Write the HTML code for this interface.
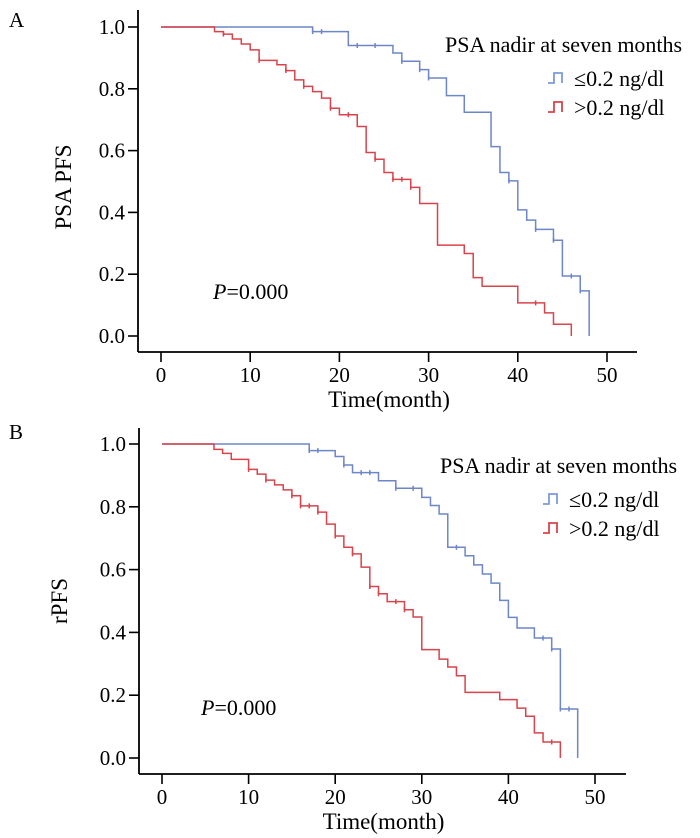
<!DOCTYPE html>
<html><head><meta charset="utf-8"><style>
html,body{margin:0;padding:0;background:#fff;}
svg{display:block;font-family:"Liberation Serif",serif;}
</style></head><body>
<svg id="fig" width="700" height="838" viewBox="0 0 700 838">
</svg>
<script>
// Panel A data: [month, survival]
const aBlueSteps = [[17,0.985],[21,0.94],[26,0.916],[27,0.889],[29,0.862],[30,0.835],[32,0.778],[34,0.724],[37,0.613],[38,0.529],[39,0.502],[40,0.408],[41,0.375],[42,0.345],[44,0.31],[45,0.194],[47,0.146],[48,0]];
const aBlueCensor = [17,18,22,24,27,29,30,39,42,44,46,47];
const aRedSteps = [[6,0.985],[7,0.977],[8,0.961],[9,0.945],[10,0.926],[11,0.892],[13,0.878],[14,0.859],[15,0.829],[16,0.808],[17,0.791],[18,0.770],[19,0.737],[20,0.716],[22,0.678],[23,0.594],[24,0.572],[25,0.529],[26,0.507],[28,0.481],[29,0.429],[31,0.294],[34,0.267],[35,0.189],[36,0.161],[40,0.107],[43,0.075],[44,0.038],[46,0]];
const aRedCensor = [7,11,14,16,19,21,24,26,27,28,42];
// Panel B data
const bBlueSteps = [[17,0.979],[20,0.960],[21,0.933],[22,0.909],[25,0.883],[27,0.859],[30,0.830],[31,0.804],[32,0.777],[33,0.671],[35,0.644],[36,0.615],[37,0.586],[38,0.557],[39,0.502],[40,0.448],[41,0.414],[43,0.382],[45,0.347],[46,0.156],[48,0]];
const bBlueCensor = [17,18,21,23,24,27,29,34,44,45,46,47];
const bRedSteps = [[6,0.983],[7,0.970],[8,0.951],[10,0.919],[11,0.904],[12,0.885],[13,0.870],[14,0.854],[15,0.835],[16,0.803],[18,0.783],[19,0.745],[20,0.707],[21,0.671],[22,0.650],[23,0.608],[24,0.546],[25,0.523],[26,0.498],[28,0.472],[29,0.449],[30,0.345],[32,0.315],[33,0.290],[34,0.262],[35,0.209],[39,0.186],[41,0.159],[42,0.133],[43,0.080],[44,0.051],[46,0]];
const bRedCensor = [10,12,15,16,17,18,20,22,24,25,27,28,45];
const xTicks = [0,10,20,30,40,50];
const yTicks = [0,0.2,0.4,0.6,0.8,1.0];
const yTickLabels = ["0.0","0.2","0.4","0.6","0.8","1.0"];

const NS="http://www.w3.org/2000/svg";
const svg=document.getElementById('fig');
function mk(tag,attrs,parent,text){const e=document.createElementNS(NS,tag);for(const k in attrs)e.setAttribute(k,attrs[k]);if(text!==undefined)e.textContent=text;(parent||svg).appendChild(e);return e;}

function panel(p){
  const g=mk('g',{});
  
  
  const sx=v=>p.x0+(p.x50-p.x0)*v/50;
  const sy=v=>p.y0+(p.y1-p.y0)*v;
  const L=mk('text',{x:9,y:p.letterY,'font-size':21},g,p.letter);
  
  
  const ya=mk('line',{x1:p.ax,y1:p.axTop,x2:p.ax,y2:p.ay,stroke:'#000','stroke-width':1.8},g);
  
  
  const xa=mk('line',{x1:p.ax,y1:p.ay,x2:p.axRight,y2:p.ay,stroke:'#000','stroke-width':1.8},g);
  
  
  yTicks.forEach((t,i)=>{
    const y=sy(t);
    mk('line',{x1:p.ax-10,y1:y,x2:p.ax,y2:y,stroke:'#000','stroke-width':1.6},g);
    const tl=mk('text',{x:p.ax-13,y:y+7,'font-size':21,'text-anchor':'end'},g,yTickLabels[i]);
    
    
  });
  xTicks.forEach(t=>{
    const x=sx(t);
    mk('line',{x1:x,y1:p.ay,x2:x,y2:p.ay+10,stroke:'#000','stroke-width':1.6},g);
    const tl=mk('text',{x:x,y:p.ay+30,'font-size':21,'text-anchor':'middle'},g,String(t));
    
    
  });
  const xt=mk('text',{x:(sx(0)+sx(50))/2+5,y:p.ay+55,'font-size':23,'text-anchor':'middle'},g,'Time(month)');
  
  
  const yt=mk('text',{x:0,y:0,'font-size':23,'text-anchor':'middle',transform:`translate(${p.ytX},${p.ytY}) rotate(-90)`},g,p.ytitle);
  
  
  function curve(steps,censor,color,nm){
    let d=`M${sx(0)},${sy(1)}`;
    steps.forEach(([t,v])=>{d+=` H${sx(t)} V${sy(v)}`;});
    const path=mk('path',{d:d,fill:'none',stroke:color,'stroke-width':1.5},g);
    
    
    censor.forEach(c=>{
      let v=1;steps.forEach(([t,s])=>{if(t<=c)v=s;});
      const y=sy(v);
      const m=mk('line',{x1:sx(c),y1:y-2.5,x2:sx(c),y2:y+2.5,stroke:color,'stroke-width':1.5},g);
      
      
    });
  }
  curve(p.blue,p.blueC,'#6d86c9','low-nadir');
  curve(p.red,p.redC,'#d9434b','high-nadir');
  const pv=mk('text',{x:p.pX,y:p.pY,'font-size':22},g);
  
  
  mk('tspan',{'font-style':'italic'},pv,'P');
  mk('tspan',{},pv,'=0.000');
  const lg=mk('g',{},g);
  
  
  mk('text',{x:p.lgX,y:p.lgY,'font-size':22},lg,'PSA nadir at seven months');
  [['#7c9bdb','≤0.2 ng/dl'],['#d9434b','>0.2 ng/dl']].forEach(([c,t],i)=>{
    const yy=p.lgY+31+i*29;
    const ix=p.lgX+103;
    const e=mk('g',{},lg);
    
    
    mk('path',{d:`M${ix},${yy} H${ix+6} V${yy-10} H${ix+14} V${yy}`,fill:'none',stroke:c,'stroke-width':1.8},e);
    mk('text',{x:ix+26,y:yy+3,'font-size':22},e,t);
  });
}

panel({name:'panel-a',letter:'A',letterY:27,x0:161,x50:607,y0:336,y1:27,ax:138,ay:352,axTop:10,axRight:637,
  ytitle:'PSA PFS',ytX:71,ytY:187,blue:aBlueSteps,blueC:aBlueCensor,red:aRedSteps,redC:aRedCensor,pX:213,pY:299,lgX:445,lgY:52});
panel({name:'panel-b',letter:'B',letterY:439,x0:162,x50:595,y0:758,y1:444,ax:139,ay:774,axTop:428,axRight:626,
  ytitle:'rPFS',ytX:67,ytY:601,blue:bBlueSteps,blueC:bBlueCensor,red:bRedSteps,redC:bRedCensor,pX:201,pY:715,lgX:440,lgY:473});
</script>
</body></html>
